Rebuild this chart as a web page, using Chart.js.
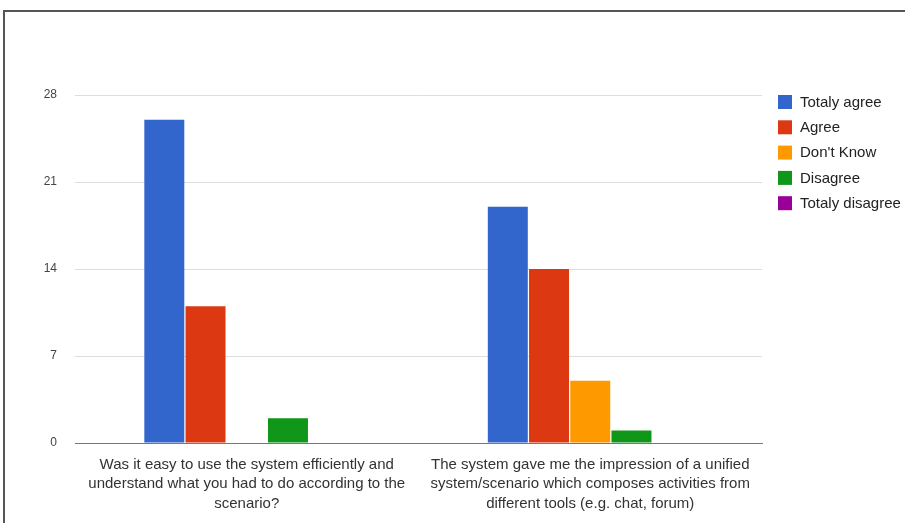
<!DOCTYPE html>
<html>
<head>
<meta charset="utf-8">
<script src="https://cdn.jsdelivr.net/npm/chart.js@4/dist/chart.umd.min.js"></script>
<style>
  html, body { margin: 0; padding: 0; background: #fff; }
  body { width: 905px; height: 523px; position: relative; overflow: hidden; }
  #frame { position: absolute; left: 3px; top: 10px; width: 910px; height: 530px;
           border-left: 2px solid #555; border-top: 2px solid #555; box-sizing: border-box; }
  #wrap { position: absolute; left: 0; top: 0; width: 905px; height: 523px; }
</style>
</head>
<body>
<div id="frame"></div>
<div id="wrap"><canvas id="c" width="905" height="523"></canvas></div>
<script>
// Survey questions (x categories), one line per array entry
const questions = [
  ["Was it easy to use the system efficiently and", "understand what you had to do according to the", "scenario?"],
  ["The system gave me the impression of a unified", "system/scenario which composes activities from", "different tools (e.g. chat, forum)"]
];

// Answer options and their counts per question
const answers = ["Totaly agree", "Agree", "Don't Know", "Disagree", "Totaly disagree"];
const totalyAgree    = [26, 19];
const agree          = [11, 14];
const dontKnow       = [0, 5];
const disagree       = [2, 1];
const totalyDisagree = [0, 0];

const yTicks = [0, 7, 14, 21, 28];

const palette = ["#3366cc", "#dc3912", "#ff9900", "#109618", "#990099"];
const seriesValues = [totalyAgree, agree, dontKnow, disagree, totalyDisagree];

const FONT = "'Liberation Sans', Arial, Helvetica, sans-serif";

// Legend drawn at the right of the plot, stacked from the top
const sideLegend = {
  id: "sideLegend",
  afterDraw(chart) {
    const ctx = chart.ctx;
    const x0 = 778, y0 = 95, rowH = 25.3, box = 14;
    ctx.save();
    ctx.font = "15px " + FONT;
    ctx.textBaseline = "middle";
    chart.data.datasets.forEach((ds, i) => {
      const y = y0 + i * rowH;
      ctx.fillStyle = ds.backgroundColor;
      ctx.fillRect(x0, y, box, box);
      ctx.fillStyle = "#222";
      ctx.fillText(ds.label, x0 + 22, y + box / 2 + 0.5);
    });
    ctx.restore();
  }
};

new Chart(document.getElementById("c"), {
  type: "bar",
  data: {
    labels: questions,
    datasets: answers.map((name, i) => ({
      label: name,
      data: seriesValues[i],
      backgroundColor: palette[i],
      borderWidth: 0,
      categoryPercentage: 0.6,
      barPercentage: 0.97
    }))
  },
  options: {
    responsive: false,
    animation: false,
    devicePixelRatio: 1,
    layout: { padding: { left: 0, top: 95, right: 143, bottom: 0 } },
    plugins: {
      legend: { display: false },
      tooltip: { enabled: false }
    },
    scales: {
      x: {
        grid: { display: false },
        border: { display: true, color: "#777", width: 1 },
        ticks: {
          color: "#333",
          padding: 4,
          maxRotation: 0,
          autoSkip: false,
          font: { family: FONT, size: 15, lineHeight: 1.3 }
        },
        afterFit(scale) { scale.height = 80; }
      },
      y: {
        min: 0,
        max: 28,
        afterBuildTicks(scale) { scale.ticks = yTicks.map(v => ({ value: v })); },
        grid: {
          color: ctx => ctx.tick && ctx.tick.value === 0 ? "#777" : "#dddddd",
          drawTicks: false,
          lineWidth: 1
        },
        border: { display: false },
        ticks: {
          color: "#444",
          padding: 18,
          font: { family: FONT, size: 12 }
        },
        afterFit(scale) { scale.width = 75; }
      }
    }
  },
  plugins: [sideLegend]
});
</script>
</body>
</html>
